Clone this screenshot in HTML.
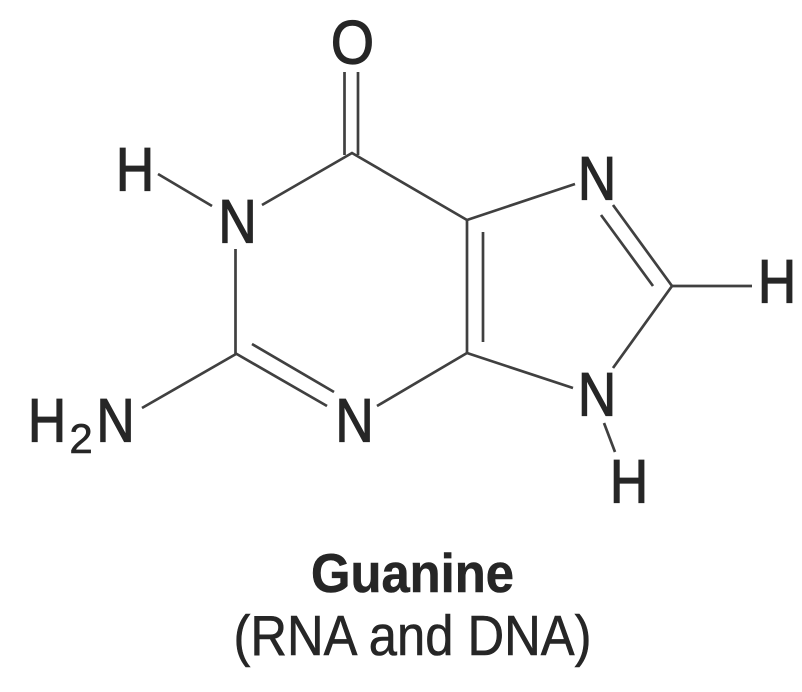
<!DOCTYPE html>
<html>
<head>
<meta charset="utf-8">
<style>
html,body{margin:0;padding:0;background:#fff;}
svg{display:block;}
text{font-family:"Liberation Sans",sans-serif;fill:#262626;}
</style>
</head>
<body>
<svg width="802" height="692" viewBox="0 0 802 692" xmlns="http://www.w3.org/2000/svg">
<g stroke="#404040" stroke-width="2.7" fill="none" stroke-linecap="butt">
<line x1="344.5" y1="72" x2="344.5" y2="155"/>
<line x1="358" y1="72" x2="358" y2="155"/>
<polyline points="262,205 352,153 467,220"/>
<line x1="158" y1="174" x2="212" y2="206"/>
<line x1="235.500" y1="249" x2="235.500" y2="354"/>
<line x1="236" y1="354" x2="142" y2="408"/>
<line x1="235" y1="353" x2="327" y2="406"/>
<line x1="252" y1="344" x2="334" y2="392"/>
<line x1="377" y1="406" x2="467" y2="353"/>
<line x1="467" y1="219" x2="467" y2="354"/>
<line x1="483" y1="232" x2="483" y2="342"/>
<line x1="467" y1="220" x2="575" y2="184"/>
<line x1="467" y1="353" x2="573" y2="388"/>
<polyline points="613,205 672,286 613,368"/>
<line x1="601" y1="215" x2="653" y2="286"/>
<line x1="672" y1="286" x2="752" y2="286"/>
<line x1="604" y1="423" x2="615" y2="452"/>
</g>
<g font-size="61" text-anchor="middle" stroke="#262626" stroke-width="1.2">
<text transform="translate(352.500,63.500) scale(.91,1)">O</text>
<text transform="translate(135,190.500) scale(.87,1)">H</text>
<text transform="translate(237.500,242.500) scale(.87,1)">N</text>
<text transform="translate(597,199.500) scale(.87,1)">N</text>
<text transform="translate(777,302.500) scale(.87,1)">H</text>
<text transform="translate(597,415.500) scale(.87,1)">N</text>
<text transform="translate(629,502.500) scale(.87,1)">H</text>
<text transform="translate(354.500,441.500) scale(.87,1)">N</text>
<text transform="translate(47,441.500) scale(.87,1)">H</text>
<text transform="translate(115.500,441.500) scale(.87,1)">N</text>
</g>
<text x="81" y="453" font-size="42" text-anchor="middle" stroke="#262626" stroke-width="0.6">2</text>
<text x="412.500" y="592" font-size="55" font-weight="bold" text-anchor="middle" textLength="203" lengthAdjust="spacingAndGlyphs" stroke="#262626" stroke-width="0.6">Guanine</text>
<text x="412.500" y="655" font-size="57" text-anchor="middle" textLength="358" lengthAdjust="spacingAndGlyphs" stroke="#262626" stroke-width="0.6">(RNA and DNA)</text>
</svg>
</body>
</html>
